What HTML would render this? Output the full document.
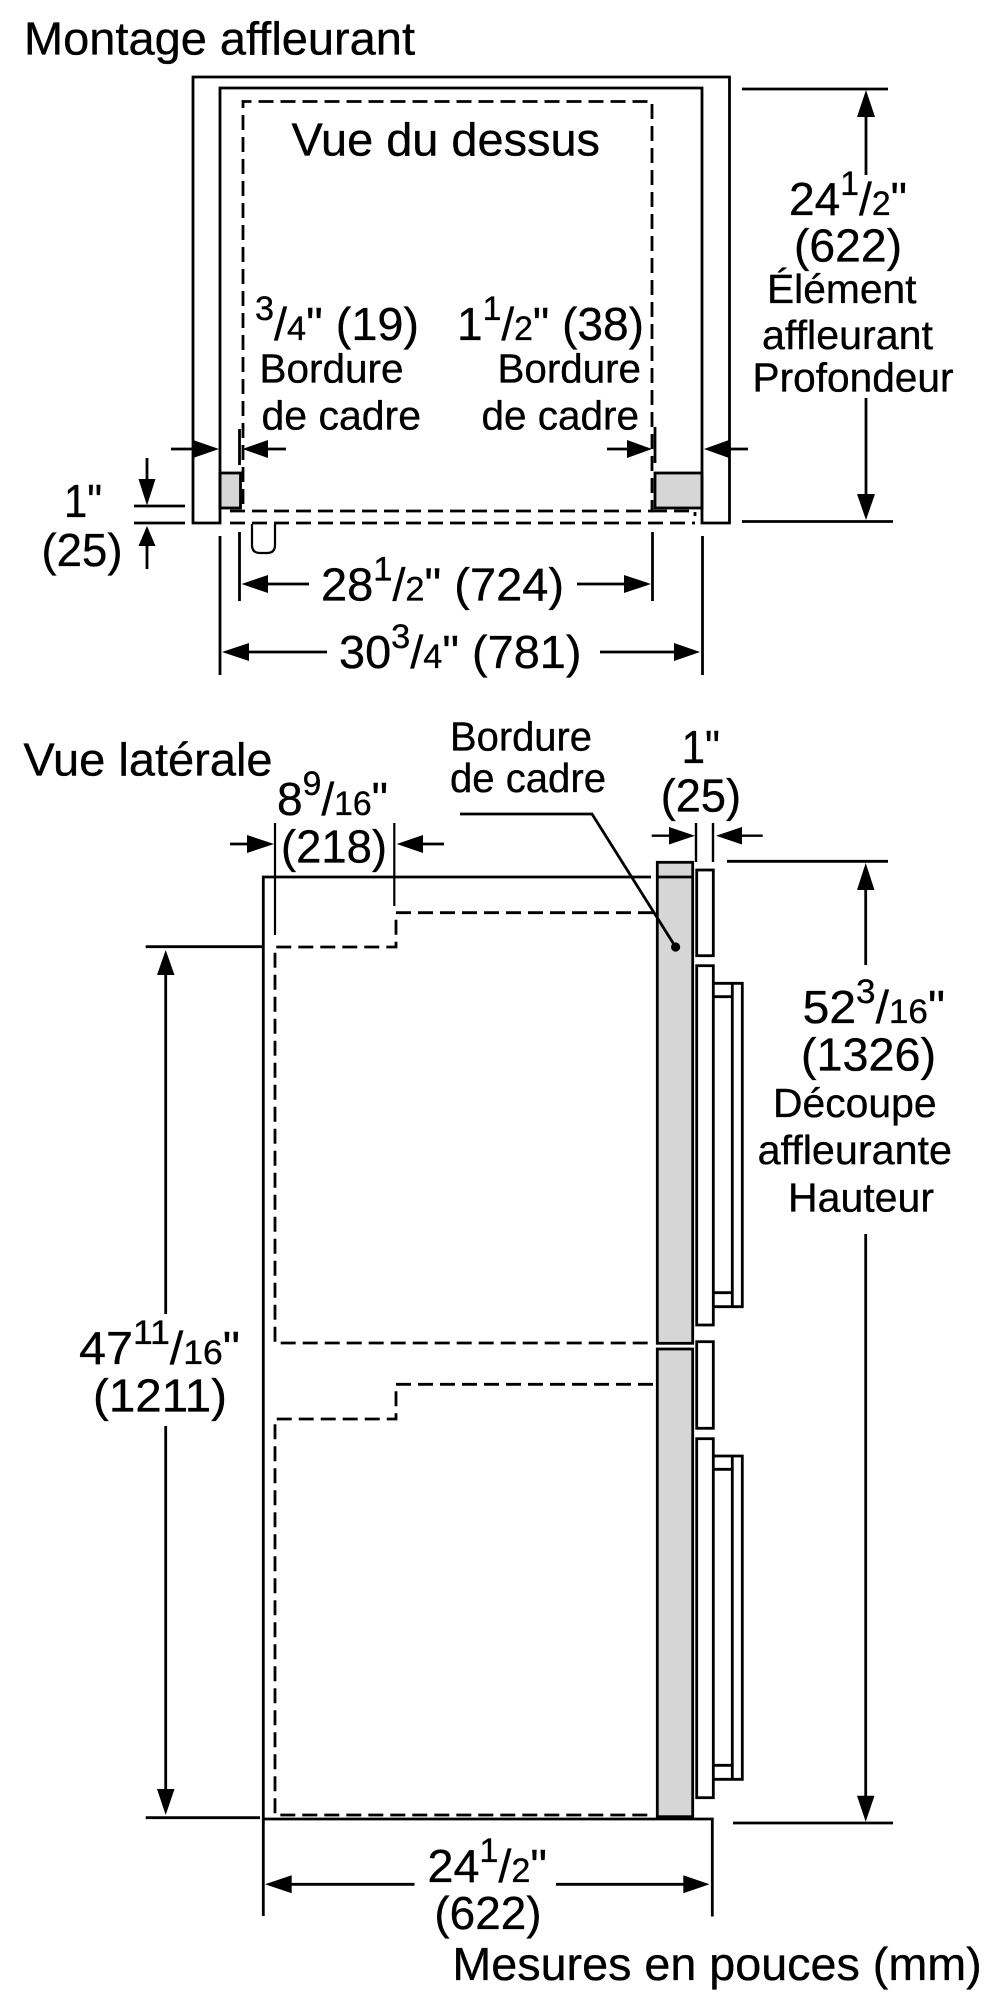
<!DOCTYPE html>
<html lang="fr">
<head>
<meta charset="utf-8">
<title>Montage affleurant</title>
<style>
html,body{margin:0;padding:0;background:#fff;}
svg{display:block;filter:blur(0.35px);}
text{font-family:"Liberation Sans",Arial,sans-serif;fill:#000;stroke:#000;stroke-width:.35px;}
.b{font-size:46.5px;}
.m{font-size:41px;}
.s{font-size:34px;}
</style>
</head>
<body>
<svg xmlns="http://www.w3.org/2000/svg" width="1000" height="2000" viewBox="0 0 1000 2000">
<rect width="1000" height="2000" fill="#fff"/>

<!-- TOP VIEW -->
<rect x="220" y="473" width="20.5" height="35" fill="#d6d6d6" stroke="#000" stroke-width="2.8"/>
<rect x="655" y="473" width="47" height="35" fill="#d6d6d6" stroke="#000" stroke-width="2.8"/>
<g fill="none" stroke="#000" stroke-width="2.8">
<path d="M193,523 V77 H729.5 V523 H702 V88 H220 V523 Z"/>
<path d="M230,511 H652 V101.5 H243 V511" stroke-dasharray="15 7"/>
<path d="M652,511 H695 V516" stroke-dasharray="15 7"/>
<path d="M230,523 H695" stroke-dasharray="15 7"/>
<path d="M252,524 V545 Q252,553 260,553 H267 Q275,553 275,545 V524" stroke-width="2.2"/>
<path d="M239.5,429 V465 M655,427 V463"/>
<path d="M171,449 H195 M265,449 H286 M607,449 H630 M726,449 H748"/>
<path d="M742,89 H888 M742,521.5 H893 M866,95 V175 M866,398 V500"/>
<path d="M134,506 H185 M134,523 H185 M147,458 V485 M147,540 V569"/>
<path d="M239.5,532 V601 M652.5,532 V601 M265,584 H309 M577,584 H628"/>
<path d="M220,536 V675 M702.5,536 V675 M245,652 H327 M600,652 H678"/>
</g>
<g fill="#000">
<path d="M219,449 L193,440 V458 Z"/>
<path d="M242.5,449 L268,440 V458 Z"/>
<path d="M652,449 L627,440 V458 Z"/>
<path d="M704,449 L729,440 V458 Z"/>
<path d="M866,90 L857,117 H875 Z"/>
<path d="M866,520 L857,494 H875 Z"/>
<path d="M147,505.5 L138.5,479 H155.5 Z"/>
<path d="M147,526 L138.5,546 H155.5 Z"/>
<path d="M241.5,584 L268,575 V593 Z"/>
<path d="M651,584 L624,575 V593 Z"/>
<path d="M222,652 L249,643 V661 Z"/>
<path d="M700,652 L674,643 V661 Z"/>
</g>

<text class="b" x="24" y="54.6" textLength="391" lengthAdjust="spacingAndGlyphs">Montage affleurant</text>
<text class="b" x="291.5" y="155.7" textLength="308.5" lengthAdjust="spacingAndGlyphs">Vue du dessus</text>
<text class="b" x="789" y="214.8" textLength="118" lengthAdjust="spacingAndGlyphs">24<tspan class="s" dy="-20">1</tspan><tspan dy="20">/</tspan><tspan class="s">2</tspan>"</text>
<text class="b" x="794" y="261.7" textLength="108" lengthAdjust="spacingAndGlyphs">(622)</text>
<text class="m" x="767" y="303" textLength="149.5" lengthAdjust="spacingAndGlyphs">Élément</text>
<text class="m" x="762" y="349" textLength="171" lengthAdjust="spacingAndGlyphs">affleurant</text>
<text class="m" x="752.5" y="391.5" textLength="201" lengthAdjust="spacingAndGlyphs">Profondeur</text>
<text class="b" x="255" y="340" textLength="164" lengthAdjust="spacingAndGlyphs"><tspan class="s" dy="-20">3</tspan><tspan dy="20">/</tspan><tspan class="s">4</tspan>" (19)</text>
<text class="b" x="457" y="340" textLength="187" lengthAdjust="spacingAndGlyphs">1<tspan class="s" dy="-20">1</tspan><tspan dy="20">/</tspan><tspan class="s">2</tspan>" (38)</text>
<text class="m" x="259.5" y="382.5" textLength="144" lengthAdjust="spacingAndGlyphs">Bordure</text>
<text class="m" x="261.5" y="429.5" textLength="159.5" lengthAdjust="spacingAndGlyphs">de cadre</text>
<text class="m" x="497.5" y="382.5" textLength="143.5" lengthAdjust="spacingAndGlyphs">Bordure</text>
<text class="m" x="481.5" y="429.5" textLength="157.5" lengthAdjust="spacingAndGlyphs">de cadre</text>
<text class="b" x="64" y="516.8" textLength="38" lengthAdjust="spacingAndGlyphs">1"</text>
<text class="b" x="41.5" y="566" textLength="81" lengthAdjust="spacingAndGlyphs">(25)</text>
<text class="b" x="321" y="600.7" textLength="243" lengthAdjust="spacingAndGlyphs">28<tspan class="s" dy="-20">1</tspan><tspan dy="20">/</tspan><tspan class="s">2</tspan>" (724)</text>
<text class="b" x="339" y="668" textLength="242.5" lengthAdjust="spacingAndGlyphs">30<tspan class="s" dy="-20">3</tspan><tspan dy="20">/</tspan><tspan class="s">4</tspan>" (781)</text>

<!-- SIDE VIEW -->
<g fill="none" stroke="#000" stroke-width="2.8">
<path d="M651,877 H263.3 V1916"/>
<path d="M263,1819 H712.3 V1916.5"/>
<path d="M275,823 V935 M394.3,823 V906" stroke-width="2.2"/>
<path d="M230,844 H250 M420,844 H444"/>
<path d="M653,912.7 H396 V947 H275 V1343 H653" stroke-dasharray="15 7"/>
<path d="M653,1384.3 H396 V1419 H275 V1815 H653" stroke-dasharray="15 7"/>
<path d="M145.7,946.7 H263 M145.7,1817.7 H260"/>
<path d="M165.7,972 V1314 M165.7,1426 V1792"/>
<path d="M651.7,835.7 H672 M739,835.7 H762.7 M696,823 V862 M713,823 V862" stroke-width="2.4"/>
<path d="M727,861.3 H888 M865.7,887 V965 M865.7,1234 V1798 M733,1823 H893"/>
<path d="M291,1884.3 H414.5 M556,1884.3 H686"/>
</g>

<g stroke="#000" stroke-width="2.8" fill="#d6d6d6">
<rect x="657.3" y="862.3" width="35.4" height="481"/>
<rect x="657.3" y="1349" width="35.4" height="467.7"/>
</g>
<path d="M657.3,877 H692.7" stroke="#000" stroke-width="2.8"/>

<g stroke="#000" stroke-width="2.8" fill="#fff">
<rect x="696.7" y="870" width="16.6" height="85.7"/>
<rect x="696.7" y="965.7" width="16.6" height="359.3"/>
<rect x="696.7" y="1341.7" width="16.6" height="86.6"/>
<rect x="696.7" y="1438.7" width="16.6" height="359"/>
<path d="M713.3,983.3 H742.3 V1306.7 H713.3 M732.3,983.3 V1306.7 M713.3,996.7 H732.3 M713.3,1292.7 H732.3" fill="none"/>
<path d="M713.3,1456 H742.3 V1779.3 H713.3 M732.3,1456 V1779.3 M713.3,1469.3 H732.3 M713.3,1765.3 H732.3" fill="none"/>
</g>

<path d="M460,814 H592 L675.6,947" fill="none" stroke="#000" stroke-width="2.8"/>
<circle cx="675.6" cy="947" r="4.6" fill="#000"/>

<g fill="#000">
<path d="M274,844 L247,835 V853 Z"/>
<path d="M396.7,844 L423,835 V853 Z"/>
<path d="M695,835.7 L669,827 V844.5 Z"/>
<path d="M716,835.7 L742,827 V844.5 Z"/>
<path d="M865.7,863 L857,890 H874.5 Z"/>
<path d="M865.7,1821.7 L857,1795.7 H874.5 Z"/>
<path d="M165.7,950 L157,975 H174.5 Z"/>
<path d="M165.7,1815 L157,1789 H174.5 Z"/>
<path d="M265,1884.3 L291.7,1875.3 V1893.3 Z"/>
<path d="M709.5,1884.3 L683.3,1875.3 V1893.3 Z"/>
</g>

<text class="b" x="23.4" y="775.7" textLength="249.2" lengthAdjust="spacingAndGlyphs">Vue latérale</text>
<text class="m" x="450" y="750.7" textLength="142" lengthAdjust="spacingAndGlyphs">Bordure</text>
<text class="m" x="450" y="792" textLength="156" lengthAdjust="spacingAndGlyphs">de cadre</text>
<text class="b" x="277" y="815" textLength="111" lengthAdjust="spacingAndGlyphs">8<tspan class="s" dy="-20">9</tspan><tspan dy="20">/</tspan><tspan class="s">16</tspan>"</text>
<text class="b" x="281" y="862.7" textLength="106" lengthAdjust="spacingAndGlyphs">(218)</text>
<text class="b" x="681.6" y="763" textLength="38.4" lengthAdjust="spacingAndGlyphs">1"</text>
<text class="b" x="660.7" y="811.7" textLength="80.3" lengthAdjust="spacingAndGlyphs">(25)</text>
<text class="b" x="802.7" y="1023" textLength="142.3" lengthAdjust="spacingAndGlyphs">52<tspan class="s" dy="-20">3</tspan><tspan dy="20">/</tspan><tspan class="s">16</tspan>"</text>
<text class="b" x="801" y="1070.7" textLength="135" lengthAdjust="spacingAndGlyphs">(1326)</text>
<text class="m" x="773" y="1117" textLength="163.6" lengthAdjust="spacingAndGlyphs">Découpe</text>
<text class="m" x="757.6" y="1164" textLength="194.4" lengthAdjust="spacingAndGlyphs">affleurante</text>
<text class="m" x="788" y="1211.7" textLength="146" lengthAdjust="spacingAndGlyphs">Hauteur</text>
<text class="b" x="79" y="1364" textLength="161" lengthAdjust="spacingAndGlyphs">47<tspan class="s" dy="-20">11</tspan><tspan dy="20">/</tspan><tspan class="s">16</tspan>"</text>
<text class="b" x="93" y="1411.7" textLength="134" lengthAdjust="spacingAndGlyphs">(1211)</text>
<text class="b" x="427.5" y="1882" textLength="119.5" lengthAdjust="spacingAndGlyphs">24<tspan class="s" dy="-20">1</tspan><tspan dy="20">/</tspan><tspan class="s">2</tspan>"</text>
<text class="b" x="434.4" y="1929" textLength="107.2" lengthAdjust="spacingAndGlyphs">(622)</text>
<text class="b" x="452.4" y="1980" textLength="529.3" lengthAdjust="spacingAndGlyphs">Mesures en pouces (mm)</text>
</svg>
</body>
</html>
